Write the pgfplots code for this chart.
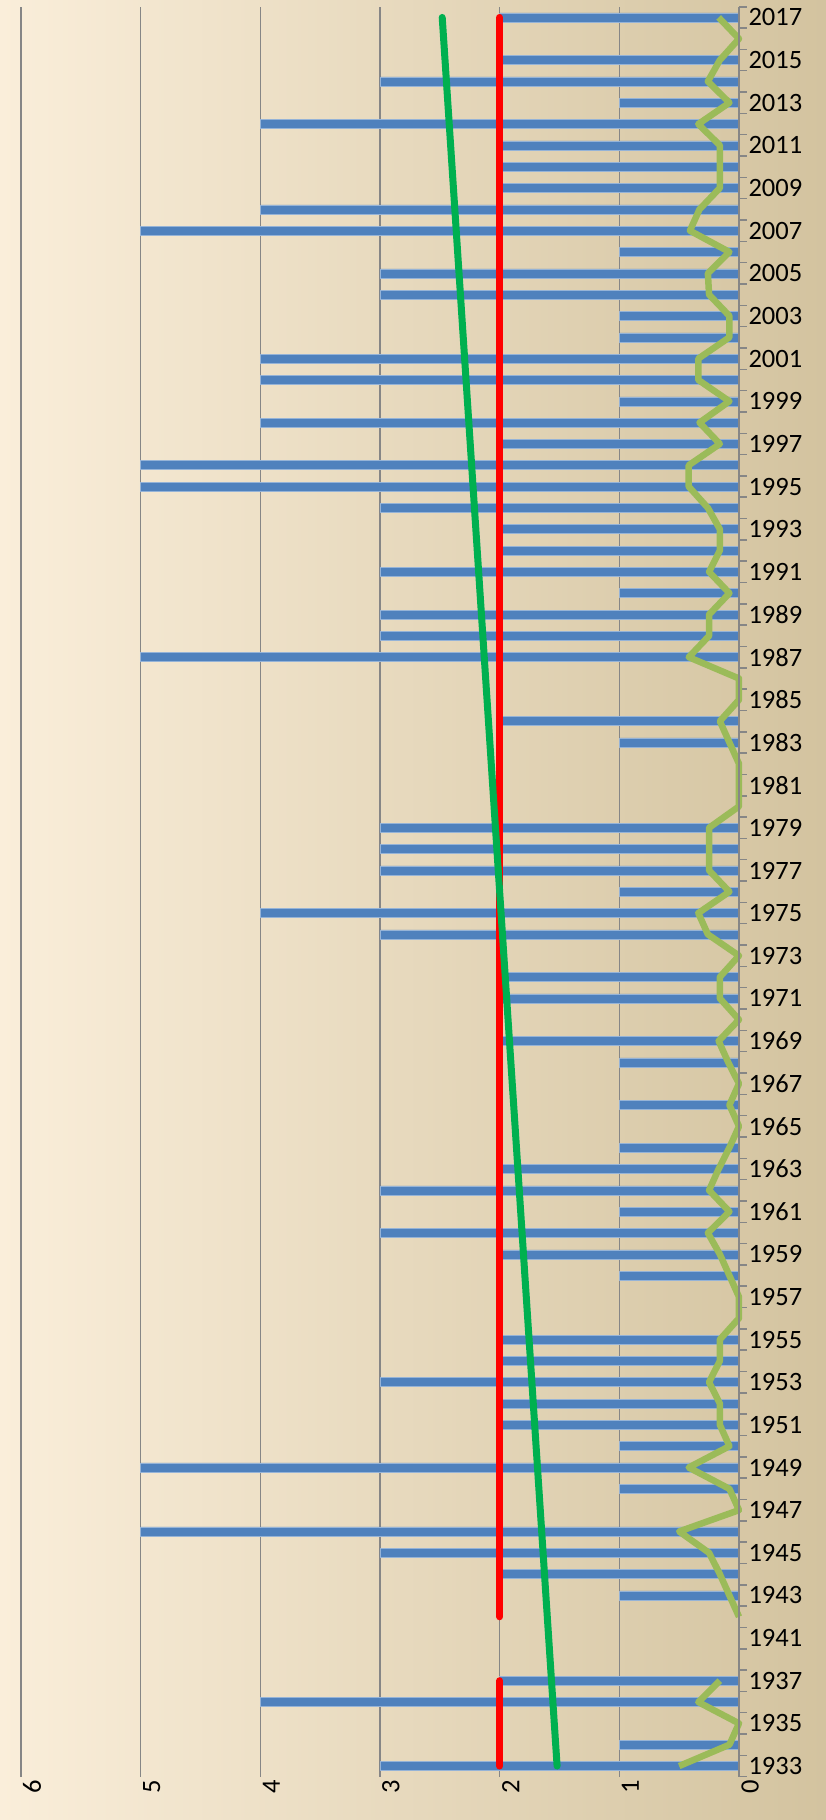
\documentclass[border=0pt]{standalone}
\usepackage{pgfplots}
\usepackage{pgfplotstable}
\usepackage{fontspec}
\setmainfont{Carlito}
\pgfplotsset{compat=1.18}
\definecolor{barblue}{HTML}{4F81BD}
\definecolor{lgreen}{HTML}{9BBB59}
\definecolor{tgreen}{HTML}{00B050}
\definecolor{gridgray}{HTML}{868686}
\definecolor{bgL}{HTML}{FAEEDA}
\definecolor{bgM}{HTML}{EFE6CF}
\definecolor{bgR}{HTML}{D3C39F}
\pgfplotstableread{
idx bar g
0 3 0.50
1 1 0.08
2 0 0.00
3 4 0.34
4 2 0.16
5 nan nan
6 nan nan
7 0 0.00
8 1 0.08
9 2 0.16
10 3 0.25
11 5 0.50
12 0 0.00
13 1 0.08
14 5 0.42
15 1 0.08
16 2 0.16
17 2 0.16
18 3 0.25
19 2 0.16
20 2 0.16
21 0 0.00
22 0 0.00
23 1 0.08
24 2 0.16
25 3 0.26
26 1 0.08
27 3 0.25
28 2 0.17
29 1 0.08
30 0 0.00
31 1 0.08
32 0 0.00
33 1 0.09
34 2 0.17
35 0 0.00
36 2 0.16
37 2 0.16
38 0 0.00
39 3 0.26
40 4 0.34
41 1 0.08
42 3 0.25
43 3 0.25
44 3 0.25
45 0 0.00
46 0 0.00
47 0 0.00
48 1 0.08
49 2 0.16
50 0 0.00
51 0 0.00
52 5 0.42
53 3 0.25
54 3 0.25
55 1 0.08
56 3 0.25
57 2 0.16
58 2 0.16
59 3 0.26
60 5 0.42
61 5 0.42
62 2 0.16
63 4 0.33
64 1 0.08
65 4 0.34
66 4 0.34
67 1 0.08
68 1 0.08
69 3 0.25
70 3 0.26
71 1 0.08
72 5 0.41
73 4 0.33
74 2 0.16
75 2 0.16
76 2 0.16
77 4 0.34
78 1 0.08
79 3 0.26
80 2 0.16
81 0 0.00
82 2 0.17
}\datatable
\begin{document}
\begin{tikzpicture}
\useasboundingbox (0,0) rectangle (826pt,1820pt);
\fill[left color=bgL, middle color=bgM, right color=bgR] (0,0) rectangle (826pt,1820pt);
\begin{axis}[
  at={(21pt,43.3pt)}, anchor=south west,
  scale only axis, width=718pt, height=1770pt,
  x dir=reverse,
  xmin=0, xmax=6, ymin=-0.5, ymax=82.5,
  axis line style={draw=none},
  xtick={0,1,2,3,4,5,6},
  xmajorgrids,
  major grid style={gridgray, line width=1.5pt},
  ytick={0,2,...,82},
  yticklabels={1933,1935,1937,1941,1943,1945,1947,1949,1951,1953,1955,1957,1959,1961,1963,1965,1967,1969,1971,1973,1975,1977,1979,1981,1983,1985,1987,1989,1991,1993,1995,1997,1999,2001,2003,2005,2007,2009,2011,2013,2015,2017},
  minor ytick={-0.5,0.5,...,82.5},
  major tick length=0pt, minor tick length=7.7pt,
  tick align=outside,
  tick style={gridgray, line width=1.5pt},
  ytick pos=right,
  yticklabel pos=right,
  /pgf/number format/assume math mode=true,
  tick label style={font=\fontsize{26.5}{31}\selectfont, black},
  xticklabel style={rotate=90, anchor=east, yshift=-11pt},
  yticklabel style={xshift=6pt},
  unbounded coords=jump,
  clip=false,
]
\addplot[xbar, bar width=9pt, fill=barblue, draw=barblue!60!white, line width=0.5pt] table[x=bar, y=idx] {\datatable};
\addplot[red, line width=7pt, line cap=round] coordinates {(2,0) (2,4) (nan,5) (2,7) (2,82)};
\addplot[lgreen, line width=6.5pt, line join=round] table[x=g, y=idx] {\datatable};
\addplot[tgreen, line width=7pt, line cap=round] coordinates {(1.52,0) (2.48,82)};
\draw[gridgray, line width=1.5pt] (axis cs:0,-0.5) -- (axis cs:0,82.5);
\end{axis}
\end{tikzpicture}
\end{document}
